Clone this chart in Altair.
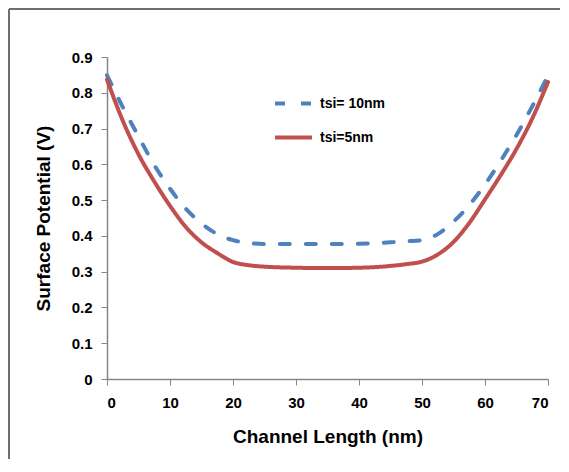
import altair as alt
import pandas as pd

# Channel position (nm)
x_vals = [0, 2.5, 5, 7.5, 10, 12.5, 15, 17.5, 20, 22.5, 25, 30, 35, 40, 45,
          47.5, 50, 52.5, 55, 57.5, 60, 62.5, 65, 67.5, 70]
# tsi = 10 nm (dashed blue)
tsi10 = [0.849, 0.760, 0.678, 0.598, 0.532, 0.476, 0.435, 0.405, 0.388, 0.380,
         0.377, 0.377, 0.377, 0.378, 0.382, 0.385, 0.388, 0.405, 0.440, 0.486,
         0.544, 0.610, 0.682, 0.762, 0.848]
# tsi = 5 nm (solid red)
tsi5 = [0.837, 0.722, 0.628, 0.552, 0.484, 0.425, 0.382, 0.352, 0.327, 0.318,
        0.314, 0.311, 0.310, 0.311, 0.316, 0.321, 0.328, 0.348, 0.383, 0.436,
        0.502, 0.570, 0.643, 0.728, 0.830]

series_names = ["tsi= 10nm", "tsi=5nm"]
colors = ["#4F81BD", "#C0504D"]

rows = []
for xv, a, b in zip(x_vals, tsi10, tsi5):
    rows.append({"x": xv, "v": a, "series": series_names[0]})
    rows.append({"x": xv, "v": b, "series": series_names[1]})
df = pd.DataFrame(rows)

FONT = "Liberation Sans"

legend = alt.Legend(title=None, orient="none", legendX=166, legendY=26,
                    symbolType="stroke", symbolSize=1369,
                    symbolStrokeWidth=4, rowPadding=5,
                    labelFont=FONT, labelFontSize=14,
                    labelFontWeight="bold", labelColor="black",
                    labelOffset=6)

lines = alt.Chart(df).mark_line(strokeWidth=4, interpolate="monotone", strokeCap="round").encode(
    x=alt.X("x:Q", scale=alt.Scale(domain=[0, 70], nice=False),
            axis=alt.Axis(title="Channel Length (nm)", values=list(range(0, 71, 10)),
                          grid=False, titlePadding=17, labelPadding=10)),
    y=alt.Y("v:Q", scale=alt.Scale(domain=[0, 0.9], nice=False),
            axis=alt.Axis(title="Surface Potential (V)",
                          values=[round(i * 0.1, 1) for i in range(10)],
                          labelExpr="datum.value == 0 ? '0' : format(datum.value, '.1f')",
                          grid=False, titlePadding=18, labelPadding=9)),
    color=alt.Color("series:N", scale=alt.Scale(domain=series_names, range=colors),
                    legend=legend),
    strokeDash=alt.StrokeDash("series:N",
                              scale=alt.Scale(domain=series_names, range=[[10, 16], [1, 0]]),
                              legend=legend),
)

frame_left = alt.Chart(df).mark_rule(color="#6e6e6e", strokeWidth=2).encode(
    x=alt.value(-98), y=alt.value(-48), y2=alt.value(420))
frame_top = alt.Chart(df).mark_rule(color="#6e6e6e", strokeWidth=2).encode(
    x=alt.value(-98), x2=alt.value(470), y=alt.value(-48))

chart = alt.layer(lines, frame_left, frame_top).properties(
    width=441, height=322,
    autosize="none",
    padding={"left": 99, "top": 49, "right": 12, "bottom": 80},
).configure_view(stroke=None).configure_axis(
    domainColor="#868686", tickColor="#868686", tickSize=6, domainWidth=1.5,
    labelFont=FONT, labelFontSize=15, labelFontWeight="bold", labelColor="black",
    titleFont=FONT, titleFontSize=19, titleFontWeight="bold", titleColor="black",
)

chart.save("out.html", embed_options={"renderer": "svg", "actions": False})
